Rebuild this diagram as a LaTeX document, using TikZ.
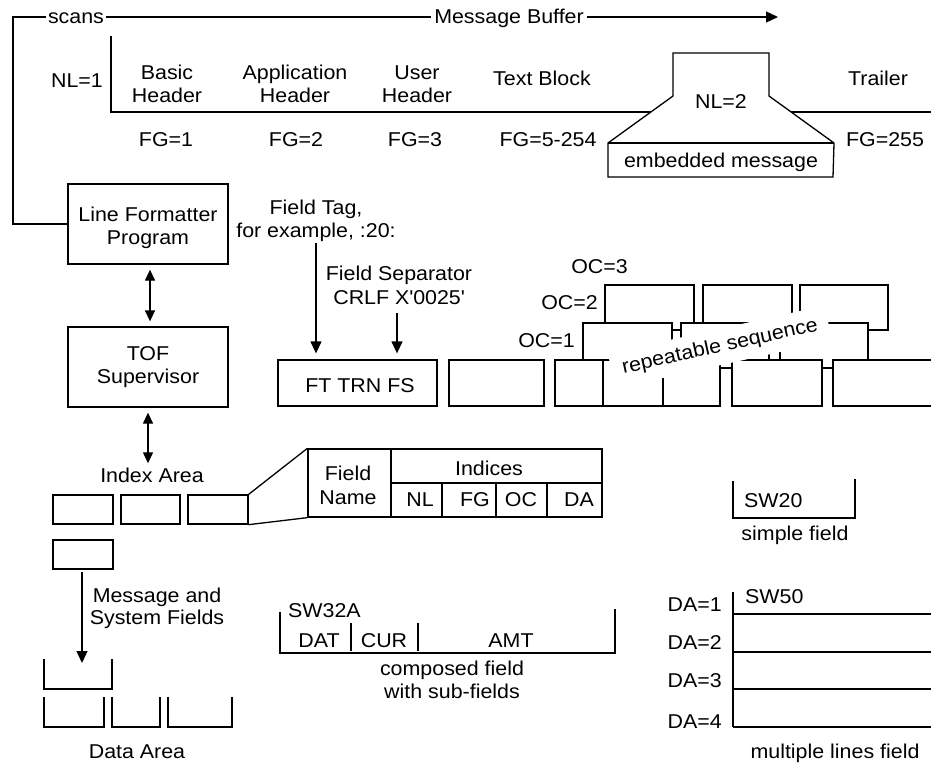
\documentclass[tikz,border=0pt]{standalone}
\usepackage{fontspec}
\setmainfont{Liberation Sans}[FakeStretch=1.07]
\usetikzlibrary{arrows.meta}
\tikzset{
  ln/.style={line width=1.3pt},
  box/.style={draw, line width=1.3pt, inner sep=0pt, fill=white},
  txt/.style={inner sep=0pt, anchor=base},
  txtr/.style={inner sep=0pt, anchor=base east},
  txtl/.style={inner sep=0pt, anchor=base west},
  tip/.style={-{Triangle[length=12pt,width=11pt]}},
  dtip/.style={{Triangle[length=11pt,width=10pt]}-{Triangle[length=11pt,width=10pt]}},
  cell/.style={box, minimum height=#1},
}
\begin{document}
\begin{tikzpicture}[x=1pt, y=-1pt, font=\fontsize{20pt}{23pt}\selectfont]
\useasboundingbox (0,0) rectangle (931,763);

% ---------- program boxes ----------
\node[box, minimum width=160, minimum height=80] (lfp) at (148,224) {};
\node[box, minimum width=160, minimum height=80] (tof) at (148,367) {};
\node[txt] (lf1) at (148,221) {Line Formatter};
\node[txt] (lf2) at (148,244) {Program};
\node[txt] (tof1) at (148,360) {TOF};
\node[txt] (tof2) at (148,383) {Supervisor};

% ---------- scan line to the message buffer ----------
\coordinate (tl) at (13,17);
\coordinate (mbtip) at (778,17);
\draw[ln, tip] (lfp.west) -| (tl) -- (mbtip);
\node[txt, fill=white, inner xsep=2.5pt] (sc) at (76,23) {scans};
\node[txt, fill=white, inner xsep=3pt] (mb) at (509,23) {Message Buffer};

% ---------- message buffer (NL=1) ----------
\coordinate (nltop) at (111,36);
\coordinate (nlend) at (940,112);
\draw[ln] (nltop) |- (nlend);
\node[txt] (nl1) at (77,87) {NL=1};
\node[txt] (bh1) at (167,79) {Basic};
\node[txt] (bh2) at (167,102) {Header};
\node[txt] (ah1) at (295,79) {Application};
\node[txt] (ah2) at (295,102) {Header};
\node[txt] (uh1) at (417,79) {User};
\node[txt] (uh2) at (417,102) {Header};
\node[txt] (tb) at (542,85) {Text Block};
\node[txt] (trl) at (878,85) {Trailer};
\node[txt] (fg1) at (166,146) {FG=1};
\node[txt] (fg2) at (296,146) {FG=2};
\node[txt] (fg3) at (415,146) {FG=3};
\node[txt] (fg5) at (548,146) {FG=5-254};
\node[txt] (fg255) at (885,146) {FG=255};

% embedded message (NL=2)
\draw[ln, fill=white] (608,177) -- (608,143) -- (673,96) -- (673,53) -- (769,53)
  -- (769,96) -- (834,143) -- (833,177) -- cycle;
\draw[ln] (608,143) -- (834,143);
\node[txt] (nl2) at (721,108) {NL=2};
\node[txt] (emb) at (721,167) {embedded message};

% ---------- program links ----------
\draw[ln, dtip, shorten <=5pt, shorten >=5pt] ([xshift=2pt]lfp.south) -- ([xshift=2pt]tof.north);
\node[txt] (ia) at (152,482) {Index Area};
\draw[ln, dtip, shorten <=5pt, shorten >=4pt] (tof.south) -- (tof.south |- ia.north);

% ---------- field tag and separator ----------
\node[txt] (ft1) at (316,214) {Field Tag,};
\node[txt] (ft2) at (316,237) {for example, :20:};
\node[txt] (fs1) at (399,280) {Field Separator};
\node[txt] (fs2) at (399,304) {CRLF X\textquotesingle 0025\textquotesingle};
\node[box, minimum width=159, minimum height=46] (ftb) at (357.5,383) {};
\node[txt] (ftt) at (360,392) {FT TRN FS};
\draw[ln, tip, shorten <=2pt, shorten >=6pt] (ft2.south) -- (ft2.south |- ftb.north);
\draw[ln, tip, shorten <=9pt, shorten >=6pt] ([xshift=-2pt]fs2.south) -- ([xshift=-2pt]fs2.south |- ftb.north);

% ---------- repeatable sequence, back rows first ----------
% OC=2 row
\node[cell=45, minimum width=89] (b21) at (649.5,307.5) {};
\node[cell=45, minimum width=89] (b22) at (747.5,307.5) {};
\node[cell=45, minimum width=88] (b23) at (844,307.5) {};
% OC=1 row
\node[cell=45, minimum width=89] (b11) at (627.5,345.5) {};
\node[cell=45, minimum width=88] (b12) at (725,345.5) {};
\node[cell=45, minimum width=88] (b13) at (824,345.5) {};
% front row
\node[cell=46, minimum width=95] (b01) at (496.5,383) {};
\node[cell=46, minimum width=48] (b02) at (579,383) {};
\node[cell=46, minimum width=60] (b03) at (633,383) {};
\node[cell=46, minimum width=57] (b04) at (691.5,383) {};
\node[cell=46, minimum width=90] (b05) at (777,383) {};
\node[cell=46, minimum width=110] (b06) at (888,383) {};
\node[fill=white, rotate=12.5, inner xsep=11pt, inner ysep=8.5pt] (rs) at (720,347) {repeatable sequence};
\node[txtr] (oc3) at (628,273) {OC=3};
\node[txtr] (oc2) at (598,309) {OC=2};
\node[txtr] (oc1) at (575,347) {OC=1};

% ---------- index area ----------
\node[box, minimum width=60, minimum height=29] (ix1) at (83,509.5) {};
\node[box, minimum width=59, minimum height=29] (ix2) at (150.5,509.5) {};
\node[box, minimum width=60, minimum height=29] (ix3) at (218,509.5) {};
\node[box, minimum width=60, minimum height=29] (ix4) at (83,554.5) {};

% index entry layout
\node[box, minimum width=83, minimum height=68] (fn) at (349.5,483) {};
\node[box, minimum width=211, minimum height=34] (ind) at (496.5,466) {};
\node[box, minimum width=51, minimum height=34] (cnl) at (416.5,500) {};
\node[box, minimum width=54, minimum height=34] (cfg) at (469,500) {};
\node[box, minimum width=51, minimum height=34] (coc) at (521.5,500) {};
\node[box, minimum width=55, minimum height=34] (cda) at (574.5,500) {};
\draw[ln] (ix3.north east) -- (fn.north west);
\draw[ln] (ix3.south east) -- (fn.south west);
\node[txt] (fn1) at (348,480) {Field};
\node[txt] (fn2) at (348,504) {Name};
\node[txt] (indt) at (489,475) {Indices};
\node[txt] (tnl) at (420,506) {NL};
\node[txt] (tfg) at (475,506) {FG};
\node[txt] (toc) at (521,506) {OC};
\node[txt] (tda) at (579,506) {DA};

% ---------- data area ----------
\coordinate (datip) at (82,663);
\draw[ln, tip, shorten <=2pt] ([xshift=-1pt]ix4.south) -- (datip);
\node[txt] (sf1) at (157,602) {Message and};
\node[txt] (sf2) at (157,624) {System Fields};
\draw[ln] (44,659) |- (112,689) -- (112,659);
\draw[ln] (44,697) |- (104,727) -- (104,697);
\draw[ln] (112,697) |- (160,727) -- (160,697);
\draw[ln] (168,697) |- (232,727) -- (232,697);
\node[txt] (dar) at (137,758) {Data Area};

% ---------- composed field ----------
\draw[ln] (280,612) |- (615,653) -- (615,609);
\draw[ln] (351,623) -- (351,651);
\draw[ln] (418,623) -- (418,651);
\node[txtl] (sw32) at (288,617) {SW32A};
\node[txt] (dat) at (319,647) {DAT};
\node[txt] (cur) at (384,647) {CUR};
\node[txt] (amt) at (511,647) {AMT};
\node[txt] (cf1) at (452,675) {composed field};
\node[txt] (cf2) at (452,698) {with sub-fields};

% ---------- simple field ----------
\draw[ln] (733,481) |- (855,518) -- (855,479);
\node[txtl] (sw20) at (744,507) {SW20};
\node[txt] (smf) at (795,540) {simple field};

% ---------- multiple lines field ----------
\draw[ln] (733,592) -- (733,727);
\foreach \yy in {614,652,689,727} \draw[ln] (733,\yy) -- (940,\yy);
\node[txtl] (sw50) at (745,603) {SW50};
\node[txtr] (da1) at (722,611) {DA=1};
\node[txtr] (da2) at (722,649) {DA=2};
\node[txtr] (da3) at (722,687) {DA=3};
\node[txtr] (da4) at (722,728) {DA=4};
\node[txt] (mlf) at (835,758) {multiple lines field};
\end{tikzpicture}
\end{document}
